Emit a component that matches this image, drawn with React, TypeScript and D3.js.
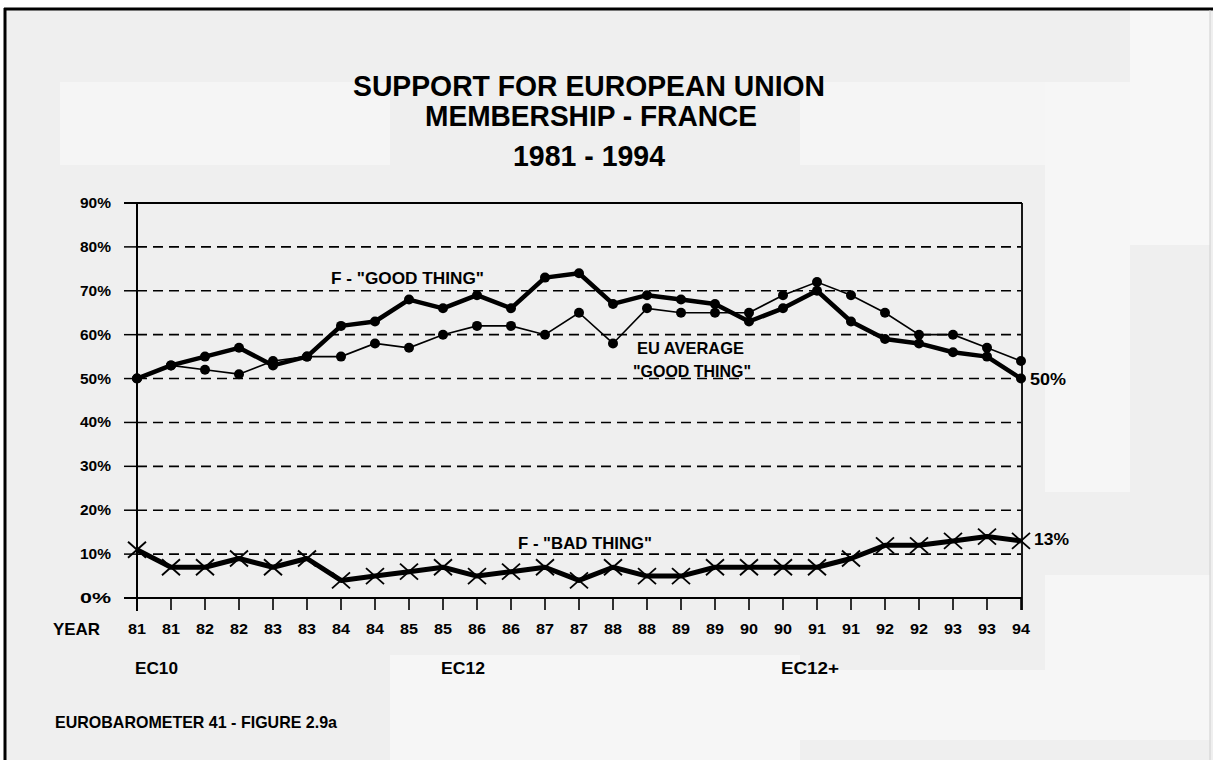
import React from "react";
import * as d3 from "d3";

const yearLabels = ["81","81","82","82","83","83","84","84","85","85","86","86","87","87","88","88","89","89","90","90","91","91","92","92","93","93","94"];
const franceGood = [50,53,55,57,53,55,62,63,68,66,69,66,73,74,67,69,68,67,63,66,70,63,59,58,56,55,50];
const euGood = [50,53,52,51,54,55,55,58,57,60,62,62,60,65,58,66,65,65,65,69,72,69,65,60,60,57,54];
const franceBad = [11,7,7,9,7,9,4,5,6,7,5,6,7,4,7,5,5,7,7,7,7,9,12,12,13,14,13];
const yTicks = [0,10,20,30,40,50,60,70,80,90];
const periods = [{ label: "EC10", idx: 0 }, { label: "EC12", idx: 9 }, { label: "EC12+", idx: 19 }];

const W = 1213, H = 760;
const FONT = "'Liberation Sans', Arial, sans-serif";

export default function App() {
  const x = d3.scaleLinear().domain([0, yearLabels.length - 1]).range([137, 1021]);
  const y = d3.scaleLinear().domain([0, 90]).range([598, 203]);
  const line = d3.line<number>().x((_, i) => x(i)).y(d => y(d));

  return (
    <svg width={W} height={H} style={{ position: "absolute", left: 0, top: 0 }}>
      <rect x={0} y={0} width={W} height={H} fill="#ffffff" />
      <rect x={4} y={9} width={W - 4} height={H - 9} fill="#efefef" />
      {/* lighter scan patches */}
      <rect x={60} y={82} width={330} height={83} fill="#f5f5f5" />
      <rect x={800} y={82} width={245} height={83} fill="#f5f5f5" />
      <rect x={1045} y={82} width={85} height={410} fill="#f6f6f6" />
      <rect x={1130} y={10} width={80} height={235} fill="#f7f7f7" />
      <rect x={390} y={655} width={410} height={105} fill="#f6f6f6" />
      <rect x={800} y={670} width={410} height={70} fill="#f6f6f6" />
      <rect x={1045} y={575} width={165} height={110} fill="#f6f6f6" />
      {/* frame */}
      <line x1={4} x2={W} y1={9} y2={9} stroke="#000" strokeWidth={3} />
      <line x1={5} x2={5} y1={8} y2={H} stroke="#000" strokeWidth={3} />
      <line x1={1210} x2={1210} y1={10} y2={H} stroke="#cfcfcf" strokeWidth={1} />

      {/* title */}
      <g fontFamily={FONT} fontWeight="bold" fill="#000" textAnchor="middle">
        <text x={589} y={96} fontSize={30} textLength={472} lengthAdjust="spacingAndGlyphs">SUPPORT FOR EUROPEAN UNION</text>
        <text x={591} y={126} fontSize={30} textLength={332} lengthAdjust="spacingAndGlyphs">MEMBERSHIP - FRANCE</text>
        <text x={589} y={166} fontSize={30} textLength={152} lengthAdjust="spacingAndGlyphs">1981 - 1994</text>
      </g>

      {/* grid */}
      {yTicks.filter(t => t > 0 && t < 90).map(t => (
        <line key={"g" + t} x1={x(0)} x2={x(26)} y1={y(t)} y2={y(t)} stroke="#000" strokeWidth={1.6} strokeDasharray="10 6" />
      ))}
      {yTicks.map(t => (
        <g key={"yt" + t}>
          <line x1={124} x2={x(0)} y1={y(t)} y2={y(t)} stroke="#000" strokeWidth={1.5} />
          <text x={111} y={y(t) + 5} fontFamily={FONT} fontWeight="bold" fontSize={15} textAnchor="end" textLength={31} lengthAdjust="spacingAndGlyphs">{t}%</text>
        </g>
      ))}
      {/* plot frame */}
      <line x1={124} x2={1022} y1={y(90)} y2={y(90)} stroke="#000" strokeWidth={2} />
      <line x1={1022} x2={1022} y1={y(90)} y2={610} stroke="#000" strokeWidth={1.8} />
      <line x1={x(0)} x2={x(0)} y1={y(90)} y2={611} stroke="#000" strokeWidth={2} />
      <line x1={124} x2={1022} y1={y(0)} y2={y(0)} stroke="#000" strokeWidth={2} />
      {yearLabels.map((lab, i) => (
        <g key={"xt" + i}>
          <line x1={x(i)} x2={x(i)} y1={y(0)} y2={610} stroke="#000" strokeWidth={1.6} />
          <text x={x(i)} y={634} fontFamily={FONT} fontWeight="bold" fontSize={14} textAnchor="middle" textLength={18} lengthAdjust="spacingAndGlyphs">{lab}</text>
        </g>
      ))}
      <text x={53} y={635} fontFamily={FONT} fontWeight="bold" fontSize={17} textLength={47} lengthAdjust="spacingAndGlyphs">YEAR</text>
      {periods.map((p, k) => (
        <text key={p.label} x={x(p.idx) - 2} y={674} fontFamily={FONT} fontWeight="bold" fontSize={16} textLength={[43, 44, 58][k]} lengthAdjust="spacingAndGlyphs">{p.label}</text>
      ))}

      {/* series */}
      <path d={line(euGood) || ""} fill="none" stroke="#000" strokeWidth={1.6} />
      {euGood.map((v, i) => <circle key={"e" + i} cx={x(i)} cy={y(v)} r={5} fill="#000" />)}
      <path d={line(franceGood) || ""} fill="none" stroke="#000" strokeWidth={4.5} strokeLinejoin="round" />
      {franceGood.map((v, i) => <circle key={"f" + i} cx={x(i)} cy={y(v)} r={5} fill="#000" />)}
      <path d={line(franceBad) || ""} fill="none" stroke="#000" strokeWidth={5} strokeLinejoin="round" />
      {franceBad.map((v, i) => (
        <g key={"b" + i} stroke="#000" strokeWidth={1.8}>
          <line x1={x(i) - 9} x2={x(i) + 9} y1={y(v) - 8} y2={y(v) + 8} />
          <line x1={x(i) - 9} x2={x(i) + 9} y1={y(v) + 8} y2={y(v) - 8} />
        </g>
      ))}

      {/* annotations */}
      <g fontFamily={FONT} fontWeight="bold" fill="#000">
        <text x={331} y={284} fontSize={17} textLength={153} lengthAdjust="spacingAndGlyphs">F - "GOOD THING"</text>
        <text x={637} y={354} fontSize={17} textLength={107} lengthAdjust="spacingAndGlyphs">EU AVERAGE</text>
        <text x={633} y={377} fontSize={17} textLength={118} lengthAdjust="spacingAndGlyphs">"GOOD THING"</text>
        <text x={1030} y={385} fontSize={17} textLength={36} lengthAdjust="spacingAndGlyphs">50%</text>
        <text x={1034} y={545} fontSize={17} textLength={35} lengthAdjust="spacingAndGlyphs">13%</text>
        <text x={518} y={549} fontSize={17} textLength={134} lengthAdjust="spacingAndGlyphs">F - "BAD THING"</text>
        <text x={55} y={728} fontSize={17} textLength={282} lengthAdjust="spacingAndGlyphs">EUROBAROMETER 41 - FIGURE 2.9a</text>
      </g>
    </svg>
  );
}
